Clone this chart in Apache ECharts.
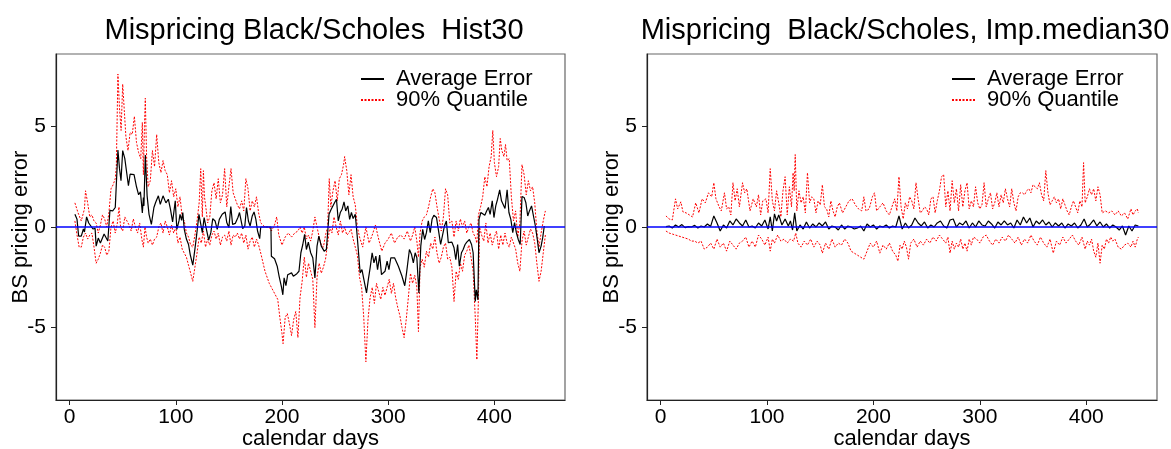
<!DOCTYPE html>
<html>
<head>
<meta charset="utf-8">
<script src="https://cdn.jsdelivr.net/npm/echarts@6/dist/echarts.min.js"></script>
<style>
html,body{margin:0;padding:0;background:#fff;}
#chart{width:1171px;height:449px;}
</style>
</head>
<body>
<div id="chart"></div>
<script>
// ---------- DATA ----------
const titles = ['Mispricing Black/Scholes  Hist30', 'Mispricing  Black/Scholes, Imp.median30'];
const seriesNames = ['Average Error', '90% Quantile'];
const xTicks = [0, 100, 200, 300, 400];
const yTicks = [-5, 0, 5];
const xName = 'calendar days';
const yName = 'BS pricing error';
const zeroLevel = 0;

// Left panel (Hist30): [calendar day, error]
const histAvg = [[5,0.63],[7,0.38],[8.5,-0.45],[11,-0.45],[13,-0.1],[14,-0.25],[16,0.5],[18,0.2],[22,-0.1],[24,-0.07],[25,-0.95],[27,-0.55],[29,-0.8],[32.5,-0.35],[34,-0.35],[36,-0.7],[38,0.83],[40.6,0.8],[43,0.97],[45.5,3.83],[47,2.9],[48.4,2.3],[50,3.8],[52,3.4],[53.7,3.4],[55.4,2.05],[57,2.63],[60.7,2.6],[63,2.0],[65,1.6],[66.7,1.75],[68.5,0.7],[69.5,1.47],[70,1.05],[71.3,3.58],[73,1.55],[74.8,0.63],[77,0.13],[79.4,0.97],[81,1.22],[83.6,1.55],[85.4,1.13],[88,1.55],[90.7,1.2],[93,1.38],[95,0.88],[97,0.25],[99.5,1.3],[101,-0.12],[103,0.3],[104,0.63],[105.5,0.33],[106.6,0.72],[108,-0.12],[110,-0.6],[112,-0.87],[113.6,-1.37],[116,-1.9],[118,-1.1],[119.7,-0.37],[121.8,0.63],[123.5,0.58],[125,-0.28],[126.7,0.47],[128.8,-0.1],[131,-0.65],[133,-0.28],[134.8,0.42],[137,0.3],[139,-0.12],[141,0.38],[143.7,0.63],[146.5,0.75],[148,0.22],[150,-0.03],[151.8,1.02],[153.5,0.13],[156,0.18],[158.5,0.47],[160,0.72],[163,-0.08],[165,0.05],[166.6,0.97],[168.4,0.3],[170,0.05],[172,0.55],[173.7,0.75],[175.4,0.38],[177,-0.2],[179,-0.58],[180,0.0],[189.6,0.0],[190,-1.45],[193,-1.58],[195.5,-1.95],[197.3,-2.45],[199.4,-2.95],[200.8,-3.37],[202,-2.53],[203.7,-2.92],[205.4,-2.37],[207,-2.45],[209,-2.28],[210.7,-2.45],[214,-2.32],[216,-2.2],[217.8,-1.28],[219.6,-0.87],[221.3,-0.37],[223,-1.12],[224.8,-0.75],[227,-1.28],[229,-1.53],[231,-2.53],[233,-0.95],[234.7,-0.45],[237,-0.95],[239.7,-1.2],[241.8,-1.12],[244.3,0.63],[246,0.85],[247.8,0.8],[249.6,1.22],[251.3,1.38],[253,0.3],[254.9,0.72],[256.6,0.88],[258.4,1.25],[260,0.8],[262,1.05],[263.7,0.38],[265.4,0.72],[267,0.42],[269,0.63],[270.7,-0.37],[272.5,-0.28],[273.6,-2.28],[275.3,-2.12],[277,-2.58],[279.6,-3.28],[281.3,-2.62],[283,-2.03],[284.9,-1.28],[286.6,-1.78],[288.4,-1.45],[290,-2.12],[292,-1.4],[293.7,-2.37],[295.4,-2.45],[297,-2.2],[299,-1.7],[300.7,-2.12],[302.5,-1.53],[306,-1.53],[309.6,-1.95],[313,-2.45],[315.6,-2.92],[317.3,-2.28],[320,-1.12],[322,-1.37],[323.7,-1.78],[325.4,-1.28],[327,-1.53],[328.9,-3.28],[330.7,-0.95],[332.5,-0.12],[334.3,-0.62],[336,-0.28],[337.8,0.3],[339.6,-0.28],[341.3,0.38],[343,0.58],[345.5,0.47],[347.7,-0.28],[349.4,-0.87],[351,-0.87],[353,0.05],[354.8,0.3],[356.6,-0.78],[358.4,-0.75],[360,-0.75],[362,-1.03],[363.7,-1.62],[365.4,-0.87],[367,-1.95],[369,-1.28],[370.6,-1.12],[372.4,-0.87],[374,-0.75],[376.5,-0.62],[378.5,-0.87],[380,-1.28],[382,-3.7],[383,-3.12],[384.5,-3.62],[385.5,0.38],[387.3,0.72],[389,0.8],[391,0.58],[392.7,0.8],[394.4,0.97],[396,0.63],[398,1.3],[399.6,0.47],[401.3,1.05],[403,1.38],[405,1.85],[406.7,1.3],[408.4,1.22],[410,0.92],[412,1.85],[413.7,0.72],[415.5,0.38],[417.3,-0.28],[419,0.22],[420.7,-0.28],[422.5,-0.62],[424.3,-0.87],[426,1.52],[428,1.47],[429.6,1.22],[431.4,0.55],[433,0.8],[435,1.05],[436.8,0.97],[438.6,0.05],[440.4,-0.62],[442,-1.28],[444,-0.95],[445.5,-0.53],[447,0.05]];

const histUpper = [[5,1.2],[8,0.7],[11,0.3],[14,0.9],[15,1.8],[17,1.2],[19,0.5],[21,0.6],[23,0.3],[25,0.2],[27,-0.3],[29,0.1],[31,0.6],[33,0.4],[35,0.0],[37,0.7],[39,1.9],[41,2.1],[43,2.4],[44,3.0],[45.5,7.6],[47,5.9],[48.5,4.8],[50,7.1],[51.5,5.8],[53,4.5],[55,3.8],[57,4.7],[59,4.6],[61,5.5],[63,4.2],[65,3.7],[67,3.4],[68.5,5.2],[69.5,2.6],[70.5,5.0],[71.3,6.4],[72.5,3.5],[74,2.0],[76,2.3],[78,3.8],[80,3.0],[82,4.6],[84,3.2],[86,2.7],[88,3.3],[90,2.8],[92,2.6],[94,1.7],[96,2.3],[98,1.5],[100,1.9],[102,1.0],[104,1.5],[106,0.5],[108,0.3],[110,-0.3],[112,-0.5],[114,-0.9],[116,-1.0],[118,-0.4],[120,0.3],[122,1.2],[123.5,2.9],[125,0.5],[126,2.8],[127,1.5],[128.5,0.9],[130,0.2],[132,0.5],[134,1.8],[136,2.2],[138,1.4],[140,2.4],[142,1.2],[144,1.6],[146,2.9],[148,1.0],[150,2.0],[152,2.9],[154,1.7],[156,1.4],[158,1.1],[160,0.9],[162,1.3],[164,0.8],[166,2.4],[168,1.9],[170,0.8],[172,1.3],[174,1.0],[176,1.5],[178,0.7],[180,0.2],[184,0.0],[188,0.0],[190,-0.2],[193,0.1],[195,0.5],[197,-0.4],[200,-0.9],[203,-0.5],[206,-0.3],[209,-0.5],[212,-0.3],[215,-0.2],[217,0.0],[219,-0.3],[221,0.0],[223,-0.6],[225,-0.4],[227,-0.7],[229,-0.2],[231,0.5],[233,0.0],[235,-0.5],[237,-0.9],[239,-1.0],[241,-0.4],[243,0.0],[244.5,2.4],[246,1.0],[248,1.8],[250,2.3],[252,1.3],[254,2.4],[256,2.6],[258,3.1],[259,3.5],[261,2.8],[263,1.6],[265,2.6],[267,1.5],[269,1.1],[271,0.0],[273,-0.5],[276,-1.0],[279,0.0],[282,-0.8],[285,-0.4],[288,0.1],[291,-0.6],[294,-1.2],[297,-0.8],[300,-0.6],[303,-0.3],[306,-0.8],[309,-0.5],[312,-0.4],[315,-0.6],[318,-0.2],[321,-0.7],[323,-0.4],[325,0.0],[327,-0.7],[328.5,-1.5],[330,-0.3],[332,0.3],[334,0.5],[336,0.6],[338,1.0],[340,1.5],[342,1.9],[344,1.7],[346,1.0],[348,0.4],[350,-0.2],[352,0.5],[354,1.9],[356,1.6],[358,0.2],[360,0.3],[362,-0.5],[364,0.3],[366,-0.2],[368,0.4],[370,0.0],[372,0.3],[374,-0.3],[376,0.0],[378,0.2],[380,-0.3],[382,-0.5],[383.5,-0.8],[385,0.6],[387,1.0],[389,1.5],[391,2.5],[393,2.0],[395,3.0],[397,3.5],[398.5,4.8],[400,3.2],[402,2.5],[404,3.0],[405.5,4.4],[407,3.8],[409,3.5],[410.5,4.1],[412,3.3],[414,3.4],[416,1.5],[418,0.3],[420,0.8],[422,-0.5],[424,0.2],[426,3.1],[428,2.6],[430,1.6],[432,2.3],[434,1.8],[436,2.0],[438,1.2],[440,-0.2],[442,-1.0],[444,-0.3],[446,0.3],[448,0.8]];

const histLower = [[5,0.3],[7,-0.4],[9,-1.0],[11,-1.0],[13,-0.5],[15,-0.3],[17,-0.6],[19,-0.4],[21,-0.3],[23,-1.0],[25,-1.8],[27,-1.6],[29,-1.3],[31,-0.9],[33,-1.0],[35,-1.4],[37,-1.2],[39,0.0],[41,0.3],[43,-0.3],[45,0.2],[46.5,1.0],[48,0.0],[50,-0.2],[52,0.5],[54,0.3],[56,0.1],[58,-0.2],[60,0.4],[62,0.0],[64,-0.3],[66,0.2],[68,-0.6],[69.5,-1.0],[71,0.0],[72.5,-0.5],[74,-0.8],[76,-0.6],[78,-0.9],[80,-0.6],[82,-0.5],[84,0.0],[86,0.2],[88,-0.3],[90,0.3],[92,0.0],[94,-0.4],[96,0.1],[98,-0.3],[100,0.0],[102,-0.8],[104,-0.5],[106,-1.1],[108,-1.3],[110,-1.5],[112,-1.9],[114,-2.3],[116,-2.7],[118,-2.0],[120,-1.3],[122,-0.5],[124,-0.8],[126,-0.2],[128,-1.0],[130,-0.6],[132,-0.9],[134,-0.4],[136,-0.2],[138,-0.6],[140,-0.3],[142,-0.9],[144,-0.5],[146,-0.4],[148,-0.7],[150,-0.2],[152,-0.9],[154,-0.4],[156,-0.5],[158,-0.3],[160,-0.6],[162,-0.3],[164,-0.8],[166,-0.4],[168,-1.1],[170,-0.7],[172,-0.5],[174,-1.0],[176,-0.6],[178,-0.9],[180,-1.3],[184,-2.2],[188,-2.8],[192,-3.2],[196,-3.6],[198,-4.5],[200,-5.3],[201,-5.8],[203,-4.5],[205,-4.3],[207,-4.8],[209,-5.4],[211,-4.6],[213,-4.2],[215,-5.5],[217,-3.5],[219,-2.7],[221,-1.5],[223,-2.5],[225,-1.8],[227,-2.2],[229,-2.6],[231,-5.0],[233,-2.5],[235,-1.8],[237,-2.3],[239,-2.0],[241,-1.6],[243,-0.8],[245,0.0],[247,-0.3],[249,0.5],[251,0.0],[253,-0.4],[255,0.3],[257,-0.3],[259,0.0],[261,-0.4],[263,-0.3],[265,-0.1],[267,-0.6],[269,-1.0],[271,-1.4],[273,-2.5],[275,-3.0],[277,-4.5],[279,-6.7],[281,-4.6],[283,-3.5],[285,-3.0],[287,-3.8],[289,-2.8],[291,-3.2],[293,-3.6],[295,-3.0],[297,-3.4],[299,-3.0],[301,-2.6],[303,-3.3],[305,-2.8],[307,-3.5],[309,-4.0],[311,-4.4],[313,-5.0],[315,-5.5],[317,-4.6],[319,-3.5],[321,-2.3],[323,-2.8],[325,-2.4],[327,-3.0],[328.5,-5.2],[330,-2.0],[332,-1.6],[334,-2.0],[336,-1.2],[338,-1.5],[340,-0.8],[342,-1.1],[344,-0.5],[346,-1.3],[348,-1.8],[350,-1.5],[352,-1.0],[354,-0.8],[356,-1.6],[358,-1.5],[360,-2.0],[362,-3.7],[364,-2.2],[366,-2.6],[368,-1.8],[370,-2.2],[372,-1.4],[374,-1.2],[376,-0.9],[378,-1.5],[380,-2.2],[382,-4.5],[383.5,-6.6],[385,-3.5],[386,0.0],[388,-0.4],[390,-0.7],[392,0.2],[394,-0.8],[396,-0.3],[398,-0.9],[400,-0.5],[402,-0.2],[404,-1.1],[406,-0.4],[408,-0.9],[410,-0.3],[412,-0.8],[414,-1.0],[416,-0.5],[418,-0.8],[420,-1.1],[422,-1.8],[424,-2.2],[426,-0.7],[428,-0.2],[430,-0.9],[432,-0.5],[434,-0.1],[436,-0.3],[438,-0.8],[440,-1.8],[442,-2.7],[444,-2.2],[446,-1.3],[448,-0.4]];

// Right panel (Imp.median30)
const impAvg = [[5,0.02],[8,0.05],[11,-0.05],[14,0.1],[17,0.0],[20,0.12],[23,-0.03],[26,0.02],[29,0.0],[32,0.08],[35,-0.05],[38,0.05],[41,0.0],[44,0.15],[47,0.03],[50,0.55],[53,0.2],[56,-0.2],[59,0.1],[62,-0.05],[65,0.3],[68,0.1],[71,0.4],[74,0.2],[77,0.05],[80,0.35],[83,0.0],[86,0.05],[89,-0.05],[92,0.2],[95,0.05],[98,0.35],[101,-0.1],[103,0.5],[105,-0.2],[107,0.65],[109,0.3],[111,0.6],[114,0.1],[117,0.4],[120,0.05],[122,0.3],[124,-0.15],[126,0.7],[128,-0.2],[131,0.1],[134,-0.1],[137,0.25],[140,-0.05],[143,0.15],[146,0.0],[149,0.2],[152,0.05],[155,0.25],[158,-0.1],[161,0.05],[164,0.0],[167,-0.15],[170,0.1],[173,-0.1],[176,0.05],[179,0.0],[182,-0.1],[185,-0.05],[188,0.05],[191,-0.2],[194,0.15],[197,0.0],[200,0.1],[203,-0.1],[206,0.05],[209,0.0],[212,0.1],[215,-0.05],[218,0.05],[221,0.0],[224,0.55],[227,-0.1],[230,0.2],[233,-0.05],[236,0.1],[239,0.45],[242,0.2],[245,0.05],[248,0.25],[251,-0.05],[254,0.1],[257,0.0],[260,0.2],[263,0.3],[266,0.05],[269,-0.05],[272,0.35],[275,0.4],[278,0.0],[281,0.2],[284,0.1],[287,0.3],[290,-0.05],[293,0.2],[296,0.0],[299,0.3],[302,0.1],[305,0.05],[308,0.3],[311,0.15],[314,-0.05],[317,0.25],[320,0.1],[323,0.3],[326,0.1],[329,0.2],[332,-0.05],[335,0.35],[338,0.1],[341,0.5],[344,0.2],[347,0.45],[350,0.0],[353,0.3],[356,0.15],[359,0.35],[362,0.1],[365,0.25],[368,0.0],[371,0.2],[374,0.05],[377,0.2],[380,-0.05],[383,0.15],[386,0.05],[389,0.2],[392,-0.05],[395,0.1],[398,0.4],[401,0.0],[404,0.15],[407,0.35],[410,0.05],[413,0.25],[416,0.0],[419,0.15],[422,-0.05],[425,0.1],[428,0.0],[431,-0.15],[434,0.05],[437,-0.4],[440,0.05],[443,-0.2],[446,0.1],[449,0.05]];

const impUpper = [[5,0.55],[8,0.4],[11,0.35],[14,1.4],[16,0.9],[19,1.25],[21,0.75],[24,0.7],[27,0.6],[30,0.5],[33,1.2],[36,0.7],[39,1.4],[42,1.2],[45,1.7],[48,1.5],[50,2.2],[52,1.4],[55,1.0],[57,0.8],[60,1.7],[62,0.9],[64,1.0],[66,0.6],[68,2.2],[70,1.3],[72,1.9],[74,1.0],[77,2.2],[79,1.7],[81,1.9],[84,0.8],[87,1.4],[90,1.0],[92,1.6],[94,0.6],[96,1.3],[99,1.4],[101,0.7],[103,2.9],[105,1.3],[107,0.8],[109,1.8],[111,1.2],[113,0.5],[115,1.8],[117,2.5],[119,0.6],[121,2.0],[123,1.0],[124.5,2.7],[125.5,1.8],[126.5,3.6],[128,0.8],[130,1.8],[132,1.2],[134,1.5],[136,0.7],[138,2.7],[140,1.2],[142,1.5],[144,1.4],[146,0.7],[148,1.3],[150,1.1],[152,2.1],[154,1.0],[156,0.9],[158,0.5],[160,1.3],[162,0.8],[164,0.5],[166,1.0],[168,1.2],[171,0.7],[174,1.0],[177,1.3],[180,1.4],[183,1.1],[186,0.9],[189,0.8],[191,1.5],[193,0.8],[196,0.9],[199,1.5],[201,1.7],[203,0.8],[206,1.0],[209,1.2],[212,0.8],[215,0.6],[218,1.1],[220,1.4],[222,0.8],[224,2.5],[226,1.0],[228,0.4],[230,1.2],[232,0.9],[234,1.5],[236,1.3],[238,0.9],[240,2.2],[242,1.4],[244,0.7],[246,0.8],[248,1.0],[250,0.9],[252,0.6],[254,1.4],[256,1.5],[258,0.7],[260,1.3],[262,1.8],[264,2.5],[266,2.6],[268,1.0],[270,1.8],[272,0.8],[274,2.3],[276,1.2],[278,1.9],[280,0.8],[282,2.1],[284,1.0],[286,1.8],[288,2.2],[290,0.9],[292,1.3],[294,1.0],[296,2.0],[298,1.2],[300,0.9],[302,1.1],[304,2.2],[306,1.0],[308,1.4],[310,1.7],[312,0.9],[314,1.2],[316,1.7],[318,1.0],[320,1.6],[322,1.2],[324,1.9],[326,1.4],[328,1.0],[330,1.9],[332,1.2],[334,0.8],[336,1.5],[338,1.7],[340,1.7],[342,1.6],[344,1.8],[346,1.9],[348,1.7],[350,2.1],[352,2.0],[354,1.9],[356,2.2],[358,1.6],[360,1.3],[362,2.8],[364,1.7],[366,1.1],[368,1.3],[370,1.5],[372,1.2],[374,1.4],[376,0.9],[378,1.4],[380,1.1],[382,0.8],[384,0.6],[386,1.0],[388,1.3],[390,1.0],[392,0.7],[394,1.3],[396,1.0],[397.5,3.2],[399,1.2],[401,1.5],[403,1.9],[405,1.6],[407,1.9],[409,1.3],[411,2.0],[413,1.6],[415,0.7],[418,0.8],[421,0.7],[424,0.8],[427,0.6],[430,0.8],[433,0.55],[436,0.7],[439,0.4],[442,0.9],[444,0.6],[446,0.8],[448,0.9],[449,0.7]];

const impLower = [[5,-0.2],[8,-0.3],[11,-0.35],[14,-0.4],[17,-0.45],[20,-0.5],[23,-0.55],[26,-0.6],[29,-0.7],[32,-0.7],[35,-0.8],[38,-0.7],[41,-1.1],[44,-1.0],[47,-0.8],[50,-1.1],[53,-0.6],[56,-1.0],[59,-0.8],[62,-1.2],[65,-0.7],[68,-0.9],[71,-1.1],[74,-0.8],[77,-0.7],[80,-0.5],[83,-1.0],[86,-0.7],[89,-1.0],[92,-0.4],[95,-0.6],[98,-0.9],[101,-0.5],[103,-1.2],[105,-0.6],[107,-0.8],[110,-0.4],[113,-0.7],[116,-0.6],[119,-0.8],[122,-0.6],[125,-0.7],[127,-0.3],[129,-0.8],[132,-1.0],[135,-0.7],[138,-0.9],[141,-0.6],[144,-1.0],[147,-0.7],[150,-0.9],[152,-1.3],[155,-0.8],[158,-1.1],[161,-0.6],[164,-1.0],[167,-0.8],[170,-0.9],[173,-0.6],[176,-0.8],[179,-1.2],[182,-1.3],[185,-1.4],[188,-1.5],[191,-1.6],[194,-1.2],[197,-0.8],[200,-1.0],[203,-0.7],[206,-1.3],[209,-0.9],[212,-1.1],[215,-0.8],[218,-1.2],[221,-1.4],[223,-1.7],[225,-0.9],[227,-1.1],[229,-0.7],[231,-1.0],[233,-1.6],[235,-0.8],[238,-0.6],[241,-1.0],[244,-0.7],[247,-0.9],[250,-0.6],[253,-0.8],[256,-0.5],[259,-0.7],[262,-0.4],[265,-0.6],[268,-0.8],[270,-0.5],[272,-1.3],[274,-0.7],[276,-1.1],[278,-0.8],[280,-1.0],[282,-0.6],[284,-1.1],[286,-0.8],[288,-1.2],[290,-0.6],[292,-0.9],[294,-0.5],[297,-0.6],[300,-0.8],[303,-0.5],[306,-0.4],[309,-0.7],[312,-0.9],[315,-0.6],[318,-0.8],[321,-0.5],[324,-0.7],[327,-0.4],[330,-0.6],[333,-0.8],[336,-0.5],[339,-0.9],[342,-0.6],[345,-0.8],[348,-0.4],[351,-0.7],[354,-0.9],[357,-0.5],[360,-0.8],[363,-1.0],[366,-0.6],[369,-1.3],[372,-0.7],[375,-0.9],[378,-0.5],[381,-0.8],[384,-0.6],[387,-0.4],[390,-0.7],[393,-0.9],[396,-0.5],[399,-1.1],[401,-0.7],[403,-0.9],[405,-0.6],[407,-1.2],[409,-1.5],[411,-0.8],[413,-1.8],[415,-0.9],[417,-1.1],[419,-0.6],[421,-0.8],[423,-0.5],[425,-0.7],[427,-0.6],[430,-1.0],[433,-1.1],[436,-0.9],[439,-0.8],[442,-1.0],[444,-0.7],[446,-1.0],[448,-0.6],[449,-0.5]];

// ---------- CHART ----------
const FONT = '"Liberation Sans", Arial, Helvetica, sans-serif';
const BLUE = '#0000ff';
const xRange = [-12.8, 466.5];
const yRange = [-8.6, 8.6];
const grids = [
  {left: 56, top: 54, width: 509, height: 346},
  {left: 647, top: 54, width: 510, height: 346}
];

function makeX(i) {
  return {
    type: 'value', gridIndex: i, min: xRange[0], max: xRange[1], position: 'bottom',
    name: xName, nameLocation: 'middle', nameGap: 28, nameMoveOverlap: false,
    nameTextStyle: {fontSize: 22, color: '#000', fontFamily: FONT},
    axisLine: {show: true, onZero: false, lineStyle: {color: '#222', width: 1.2}},
    axisTick: {show: true, length: 5, customValues: xTicks, lineStyle: {color: '#222', width: 1}},
    axisLabel: {customValues: xTicks, fontSize: 21, color: '#000', fontFamily: FONT, margin: 7},
    splitLine: {show: false}
  };
}
function makeY(i) {
  return {
    type: 'value', gridIndex: i, min: yRange[0], max: yRange[1], position: 'left',
    name: yName, nameLocation: 'middle', nameRotate: 90, nameGap: 24, nameMoveOverlap: false,
    nameTextStyle: {fontSize: 22, color: '#000', fontFamily: FONT},
    axisLine: {show: true, onZero: false, lineStyle: {color: '#222', width: 1.2}},
    axisTick: {show: true, length: 5, customValues: yTicks, lineStyle: {color: '#222', width: 1}},
    axisLabel: {customValues: yTicks, fontSize: 21, color: '#000', fontFamily: FONT, margin: 10,
      formatter: v => String(v).replace('\u2212', '-')},
    splitLine: {show: false}
  };
}
const blackStyle = {color: '#000', width: 1.2, type: 'solid'};
const redStyle = {color: '#ff0000', width: 1, type: [2, 1.5]};
const blueStyle = {color: BLUE, width: 1.3, type: 'solid'};
function lineSeries(name, data, idx, style, z) {
  return {
    type: 'line', name: name, data: data, xAxisIndex: idx, yAxisIndex: idx,
    symbol: 'none', showSymbol: false, lineStyle: style, itemStyle: {color: style.color},
    animation: false, silent: true, z: z, clip: true
  };
}
function zeroLine(idx) {
  return lineSeries('zero', [[xRange[0], zeroLevel], [xRange[1], zeroLevel]], idx, blueStyle, 6);
}
function legendAt(left) {
  return {
    data: seriesNames, orient: 'vertical', left: left, top: 68, padding: 0,
    itemWidth: 23, itemHeight: 14, itemGap: -1,
    itemStyle: {opacity: 0},
    textStyle: {fontSize: 22, color: '#000', fontFamily: FONT, lineHeight: 21, padding: [0, 0, 0, 7]},
    selectedMode: false
  };
}

const chart = echarts.init(document.getElementById('chart'), null, {renderer: 'canvas'});
chart.setOption({
  backgroundColor: '#fff',
  animation: false,
  title: [
    {text: titles[0], left: 309, top: 11, textAlign: 'center',
      textStyle: {fontSize: 29, fontWeight: 'normal', color: '#000', fontFamily: FONT}},
    {text: titles[1], left: 900, top: 11, textAlign: 'center',
      textStyle: {fontSize: 29, fontWeight: 'normal', color: '#000', fontFamily: FONT}}
  ],
  legend: [legendAt(360), legendAt(951)],
  grid: grids.map(g => Object.assign({show: true, borderColor: '#666', borderWidth: 1.2,
    backgroundColor: 'transparent', containLabel: false, outerBoundsMode: 'none'}, g)),
  xAxis: [makeX(0), makeX(1)],
  yAxis: [makeY(0), makeY(1)],
  series: [
    lineSeries(seriesNames[1], histUpper, 0, redStyle, 2),
    lineSeries(seriesNames[1], histLower, 0, redStyle, 2),
    lineSeries(seriesNames[0], histAvg, 0, blackStyle, 3),
    zeroLine(0),
    lineSeries(seriesNames[1], impUpper, 1, redStyle, 2),
    lineSeries(seriesNames[1], impLower, 1, redStyle, 2),
    lineSeries(seriesNames[0], impAvg, 1, blackStyle, 3),
    zeroLine(1)
  ]
});
</script>
</body>
</html>
